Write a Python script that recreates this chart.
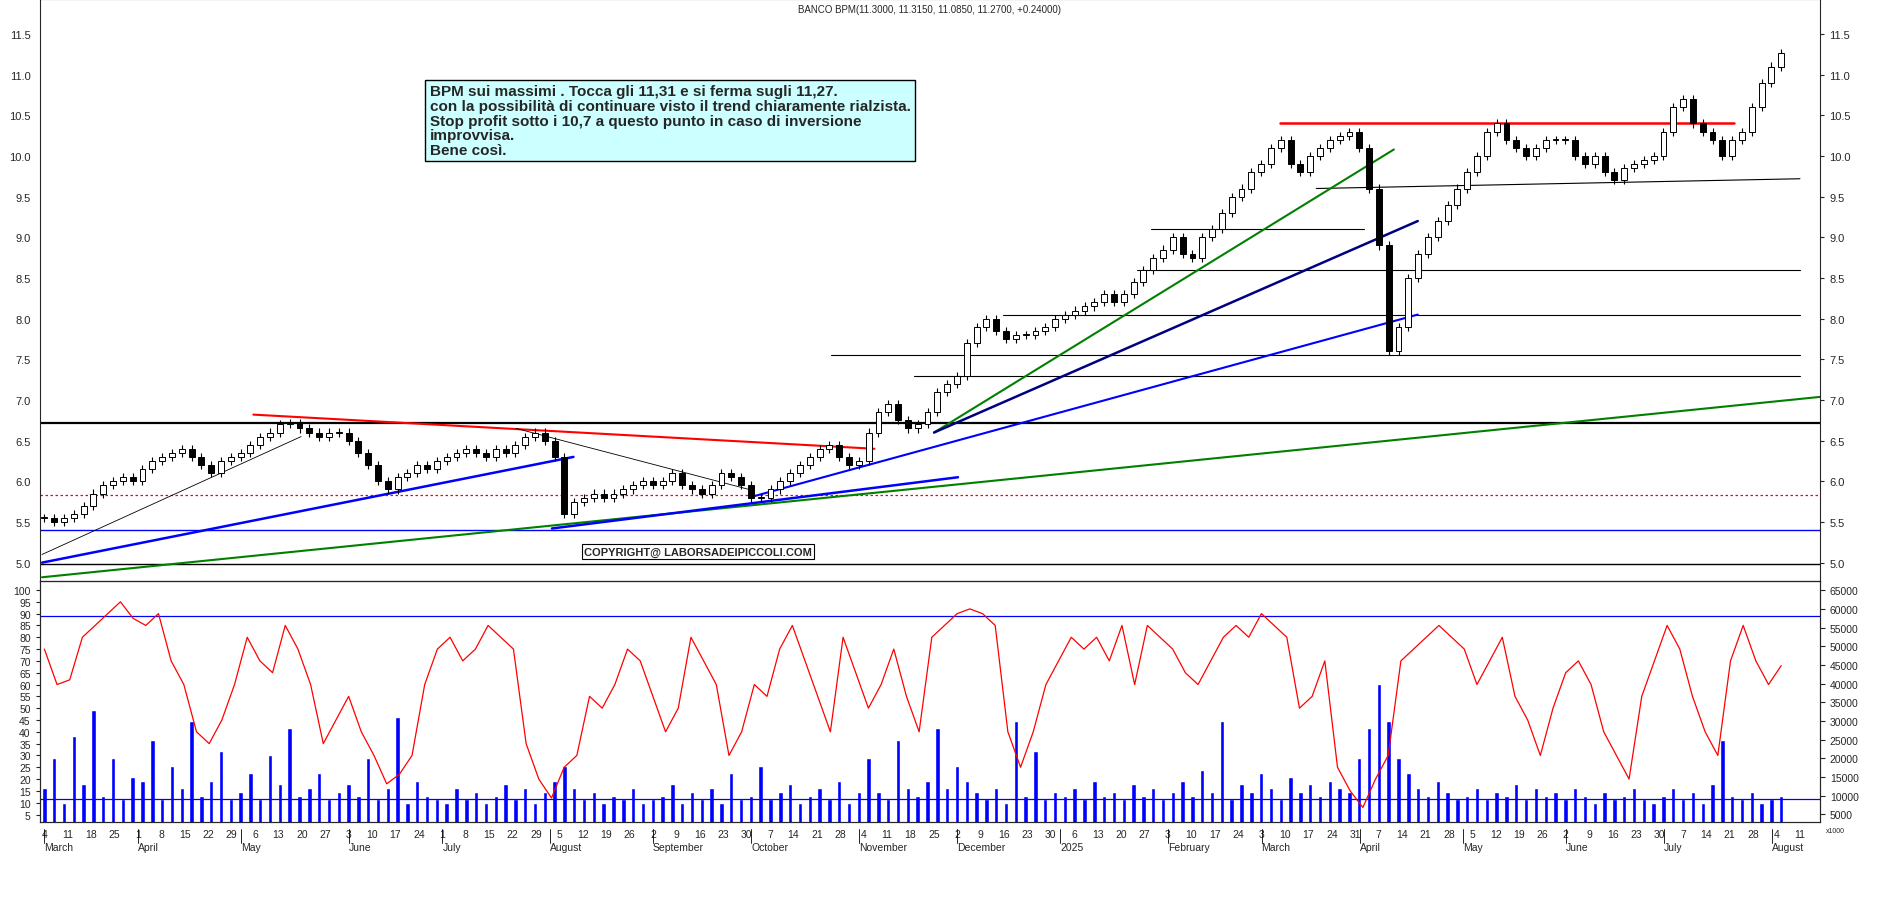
import numpy as np, pandas as pd, matplotlib
matplotlib.use("Agg")
import matplotlib.pyplot as plt, seaborn as sns

sns.set_style("white")
plt.rcParams["font.family"] = "Liberation Sans"

closes = [5.55,5.5,5.55,5.6,5.7,5.85,5.95,6.0,6.05,6.0,
 6.15,6.25,6.3,6.35,6.4,6.3,6.2,6.1,6.25,6.3,
 6.35,6.45,6.55,6.6,6.7,6.72,6.65,6.6,6.55,6.6,6.6,
 6.5,6.35,6.2,6.0,5.9,6.05,6.1,6.2,6.15,6.25,
 6.3,6.35,6.4,6.35,6.3,6.4,6.35,6.45,6.55,6.6,6.5,
 6.3,5.6,5.75,5.8,5.85,5.8,5.85,5.9,5.95,6.0,5.95,
 6.0,6.1,5.95,5.9,5.85,5.95,6.1,6.05,5.95,5.8,
 5.8,5.9,6.0,6.1,6.2,6.3,6.4,6.45,6.3,6.2,6.25,
 6.6,6.85,6.95,6.75,6.65,6.7,6.85,7.1,7.2,7.3,
 7.7,7.9,8.0,7.85,7.75,7.8,7.8,7.85,7.9,8.0,
 8.05,8.1,8.15,8.2,8.3,8.2,8.3,8.45,8.6,8.75,8.85,
 9.0,8.8,8.75,9.0,9.1,9.3,9.5,9.6,9.8,9.9,
 10.1,10.2,9.9,9.8,10.0,10.1,10.2,10.25,10.3,10.1,
 9.6,8.9,7.6,7.9,8.5,8.8,9.0,9.2,9.4,9.6,
 9.8,10.0,10.3,10.4,10.2,10.1,10.0,10.1,10.2,10.2,
 10.2,10.0,9.9,10.0,9.8,9.7,9.85,9.9,9.95,10.0,
 10.3,10.6,10.7,10.4,10.3,10.2,10.0,10.2,10.3,10.6,10.9,
 11.1,11.27]

volume = [12000,20000,8000,26000,13000,33000,10000,20000,9000,15000,
 14000,25000,9000,18000,12000,30000,10000,14000,22000,9000,
 11000,16000,9000,21000,13000,28000,10000,12000,16000,9000,11000,
 13000,10000,20000,9000,12000,31000,8000,14000,10000,9000,
 8000,12000,9000,11000,8000,10000,13000,9000,12000,8000,11000,
 14000,18000,12000,9000,11000,8000,10000,9000,12000,8000,9000,
 10000,13000,8000,11000,9000,12000,8000,16000,9000,10000,
 18000,9000,11000,13000,8000,10000,12000,9000,14000,8000,11000,
 20000,11000,9000,25000,12000,10000,14000,28000,12000,18000,
 14000,11000,9000,12000,8000,30000,10000,22000,9000,11000,
 10000,12000,9000,14000,10000,11000,9000,13000,10000,12000,9000,
 11000,14000,10000,17000,11000,30000,9000,13000,11000,16000,
 12000,9000,15000,11000,13000,10000,14000,12000,11000,20000,
 28000,40000,30000,20000,16000,12000,10000,14000,11000,9000,
 10000,12000,9000,11000,10000,13000,9000,12000,10000,11000,
 9000,12000,10000,8000,11000,9000,10000,12000,9000,8000,
 10000,12000,9000,11000,8000,13000,25000,10000,9000,11000,8000,
 9000,10000]

oscillator = [75,60,62,80,85,90,95,88, 85,90,70,60,40,35,45, 60,80,70,65,85,75,60,
 35,45,55,40,30,18,22,30, 60,75,80,70,75,85,80,75, 35,20,12,25,30,55,50,60,
 75,70,55,40,50,80,70,60, 30,40,60,55,75,85,70,55, 40,80,65,50,60,75,55,40,
 80,85,90,92,90,85,40,25, 40,60,70,80,75,80,70,85, 60,85,80,75,65,60,70,80,
 85,80,90,85,80,50,55,70, 25,15,8,20,30,70,75,80, 85,80,75,60,70,80,55,45,
 30,50,65,70,60,40,30,20, 55,70,85,75,55,40,30,70, 85,70,60,68]

dates = pd.bdate_range("2024-03-04", "2025-08-29")
didx = list(dates)
last_day = didx.index(pd.Timestamp("2025-08-05"))
n = len(closes)
xc = np.linspace(0, last_day, n)
xo = np.linspace(0, last_day, len(oscillator))
step = xc[1] - xc[0]
xmax = didx.index(pd.Timestamp("2025-08-04")) + 9.3

L, W = 0.021, 0.942
fig = plt.figure(figsize=(18.9, 9.03), dpi=100)
ax = fig.add_axes([L, 0.356, W, 0.644])
ax2 = fig.add_axes([L, 0.089, W, 0.267], sharex=ax)

opens = [closes[0]] + closes[:-1]
for x, o, c in zip(xc, opens, closes):
    lo, hi = min(o, c), max(o, c)
    ax.vlines(x, lo - 0.05, hi + 0.05, color="black", lw=0.8, zorder=3)
    ax.bar(x, max(hi - lo, 0.01), bottom=lo, width=step * 0.6,
           color="white" if c >= o else "black", edgecolor="black", lw=0.7, zorder=4)

def d(px):  # reference pixel -> trading day
    return (px - 35) / 3.92

ax.axhline(6.72, color="black", lw=1.6)
ax.axhline(4.98, color="black", lw=1)
ax.axhline(5.4, color="blue", lw=1)
ax.axhline(5.83, color="red", lw=0.9, ls=(0, (2, 2)))
for y, x0, x1 in [(7.3, 763, 1505), (7.55, 694, 1505), (8.05, 838, 1505), (8.6, 950, 1505), (9.1, 962, 1140)]:
    ax.plot([d(x0), d(x1)], [y, y], color="black", lw=0.8)
ax.plot([d(1100), d(1505)], [9.6, 9.72], color="black", lw=0.8)
ax.plot([d(1070), d(1450)], [10.4, 10.4], color="red", lw=1.8)
ax.plot([d(33), d(1530)], [4.82, 7.05], color="green", lw=1.5)
ax.plot([d(780), d(1165)], [6.6, 10.08], color="green", lw=1.5)
ax.plot([d(780), d(1185)], [6.6, 9.2], color="navy", lw=1.8)
ax.plot([d(625), d(1185)], [5.8, 8.05], color="blue", lw=1.5)
ax.plot([d(33), d(478)], [5.0, 6.3], color="blue", lw=1.8)
ax.plot([d(460), d(800)], [5.42, 6.05], color="blue", lw=1.8)
ax.plot([d(210), d(730)], [6.82, 6.4], color="red", lw=1.5)
ax.plot([d(33), d(250)], [5.1, 6.55], color="black", lw=0.6)
ax.plot([d(430), d(625)], [6.65, 5.9], color="black", lw=0.6)

ax.set_ylim(4.78, 11.93)
ax.set_xlim(-1, xmax)
yt = np.arange(5.0, 11.51, 0.5)
ax.set_yticks(yt)
ax.set_yticklabels([f"{v:.1f}" for v in yt], fontsize=8)
ax.tick_params(axis="y", labelright=True, right=True, direction="out", length=3)
ax.tick_params(axis="x", labelbottom=False, bottom=False)

ax.text(0.219, 0.853,
        "BPM sui massimi . Tocca gli 11,31 e si ferma sugli 11,27.\n"
        "con la possibilità di continuare visto il trend chiaramente rialzista.\n"
        "Stop profit sotto i 10,7 a questo punto in caso di inversione\n"
        "improvvisa.\nBene così.",
        transform=ax.transAxes, fontsize=11, fontweight="bold", va="top", ha="left",
        linespacing=1.05,
        bbox=dict(boxstyle="square,pad=0.3", fc="#ccffff", ec="black", lw=1))
ax.text(d(487), 5.1, "COPYRIGHT@ LABORSADEIPICCOLI.COM", fontsize=8, fontweight="bold",
        bbox=dict(boxstyle="square,pad=0.2", fc="white", ec="black", lw=0.8))
fig.text(L + W / 2, 0.995, "BANCO BPM(11.3000, 11.3150, 11.0850, 11.2700, +0.24000)",
         fontsize=7, ha="center", va="top")

ax3 = ax2.twinx()
ax3.bar(xc, volume, width=step * 0.45, color="blue", zorder=2)
ax3.set_ylim(3060, 67580)
ax3.set_yticks(np.arange(5000, 65001, 5000))
ax3.set_yticklabels([str(v) for v in range(5000, 65001, 5000)], fontsize=7.5)
ax3.axhline(9000, color="blue", lw=0.9)
sns.lineplot(x=xo, y=oscillator, ax=ax2, color="red", lw=0.9, zorder=5)
ax2.set_zorder(ax3.get_zorder() + 1); ax2.patch.set_visible(False)
ax2.axhline(89, color="blue", lw=0.9)
ax2.set_ylim(2, 104)
ax2.set_yticks(range(5, 101, 5))
ax2.set_yticklabels([str(v) for v in range(5, 101, 5)], fontsize=7.5)
ax2.tick_params(axis="y", direction="out", length=3)
fig.text(L + W + 0.003, 0.083, "x1000", fontsize=5, ha="left", va="top")

mondays = [i for i, dt in enumerate(dates) if dt.weekday() == 0 and i < xmax]
ax2.set_xticks(mondays)
ax2.set_xticklabels([str(dates[i].day) for i in mondays], fontsize=7.5)
ax2.tick_params(axis="x", direction="out", length=3, pad=2)
names = ["March","April","May","June","July","August","September","October","November",
         "December","2025","February","March","April","May","June","July","August"]
starts = [0] + [i for i in range(1, int(xmax)) if dates[i].month != dates[i - 1].month]
for i, nm in zip(starts, names):
    ax2.text(i, -0.085, nm, transform=ax2.get_xaxis_transform(), fontsize=7.5, ha="left", va="top")
    ax2.plot([i, i], [-0.09, -0.03], transform=ax2.get_xaxis_transform(), color="black", lw=0.6, clip_on=False)

for a in (ax, ax2, ax3):
    for s in a.spines.values():
        s.set_linewidth(0.8)
fig.savefig("out.png", dpi=100)
